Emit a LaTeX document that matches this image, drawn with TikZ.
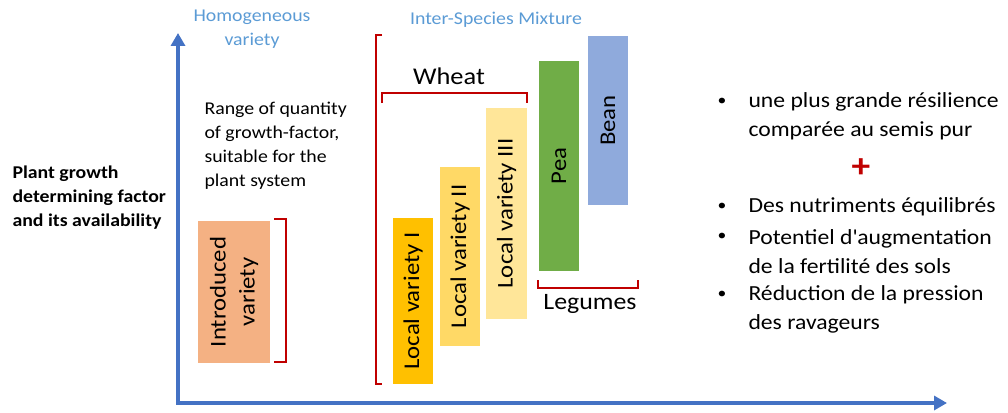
\documentclass[tikz,border=0pt]{standalone}
\usepackage{fontspec}
\setmainfont{Carlito}[FakeStretch=1.1]
\usetikzlibrary{arrows.meta}

\definecolor{axisblue}{HTML}{4472C4}
\definecolor{labelblue}{HTML}{5B9BD5}
\definecolor{brred}{HTML}{C00000}
\definecolor{introorange}{HTML}{F4B183}
\definecolor{localone}{HTML}{FFC000}
\definecolor{localtwo}{HTML}{FFD966}
\definecolor{localthree}{HTML}{FFE699}
\definecolor{peagreen}{HTML}{70AD47}
\definecolor{beanblue}{HTML}{8FAADC}

\begin{document}
\begin{tikzpicture}[x=1pt,y=-1pt,
  bar/.style={rotate=90,inner sep=0pt,align=center,font=\fontsize{22.5}{29}\selectfont},
  brace/.style={brred,line width=2.5pt},
  axis/.style={axisblue,line width=4pt,{Triangle[width=14pt,length=13pt]}-{Triangle[width=14pt,length=13pt]}},
  note/.style={font=\fontsize{18}{24}\selectfont,align=left,anchor=west},
  dot/.style={font=\fontsize{16}{18}\selectfont},
  item/.style={font=\fontsize{21.5}{29.5}\selectfont,align=left,anchor=west}]

  \useasboundingbox (0,0) rectangle (1008,412);

  % axes
  \coordinate (ytip) at (178,33);
  \coordinate (origin) at (178,403);
  \coordinate (xtip) at (947,403);
  \draw[axis] (ytip) -- (origin) -- (xtip);

  \node[font=\bfseries\fontsize{18}{24}\selectfont,align=left,anchor=west] (ylabel) at (9,198) {Plant growth\\determining factor\\and its availability};

  % homogeneous variety
  \node[labelblue,font=\fontsize{18}{24}\selectfont,align=center] (homog) at (252,29) {Homogeneous\\variety};
  \node[note] (range) at (201,146) {Range of quantity\\of growth-factor,\\suitable for the\\plant system};
  \node[bar,fill=introorange,minimum width=142pt,minimum height=72pt] (intro) at (234,292) {Introduced\\variety};
  \draw[brace] (274,219) -- (286,219) -- (286,362) -- (274,362);

  % inter-species mixture
  \node[labelblue,font=\fontsize{18}{24}\selectfont] (mixture) at (496,20) {Inter-Species Mixture};
  \draw[brace] (382,35) -- (376,35) -- (376,384) -- (382,384);

  \node[bar,fill=localone,minimum width=166pt,minimum height=40pt] (local1) at (413,301) {Local variety I};
  \node[bar,fill=localtwo,minimum width=179pt,minimum height=40pt] (local2) at (460,256.5) {Local variety II};
  \node[bar,fill=localthree,minimum width=211pt,minimum height=41pt] (local3) at (506.5,213.5) {Local variety III};
  \node[bar,fill=peagreen,minimum width=210pt,minimum height=40pt] (pea) at (559,166) {Pea};
  \node[bar,fill=beanblue,minimum width=169pt,minimum height=40pt] (bean) at (608,120.5) {Bean};

  \node[font=\fontsize{24}{28}\selectfont] (wheat) at (449,76) {Wheat};
  \draw[brace] (382,103) -- (382,93) -- (527,93) -- (527,103);
  \draw[brace] (538,280) -- (538,288) -- (638,288) -- (638,280);
  \node[font=\fontsize{23.5}{28}\selectfont] (legumes) at (590,304) {Legumes};

  % benefits
  \node[dot] (dot1) at (722,102) {\textbullet};
  \node[item] (res) at (745,116.5) {une plus grande résilience\\comparée au semis pur};
  \node[brred,font=\bfseries\fontsize{34}{34}\selectfont] (plus) at (861,168) {+};
  \node[dot] (dot2) at (722,207) {\textbullet};
  \node[item] (nutr) at (745,207) {Des nutriments équilibrés};
  \node[dot] (dot3) at (722,237) {\textbullet};
  \node[item] (fert) at (745,251.5) {Potentiel d\textquotesingle augmentation\\de la fertilité des sols};
  \node[dot] (dot4) at (722,295) {\textbullet};
  \node[item] (pest) at (745,309.5) {Réduction de la pression\\des ravageurs};
\end{tikzpicture}
\end{document}
